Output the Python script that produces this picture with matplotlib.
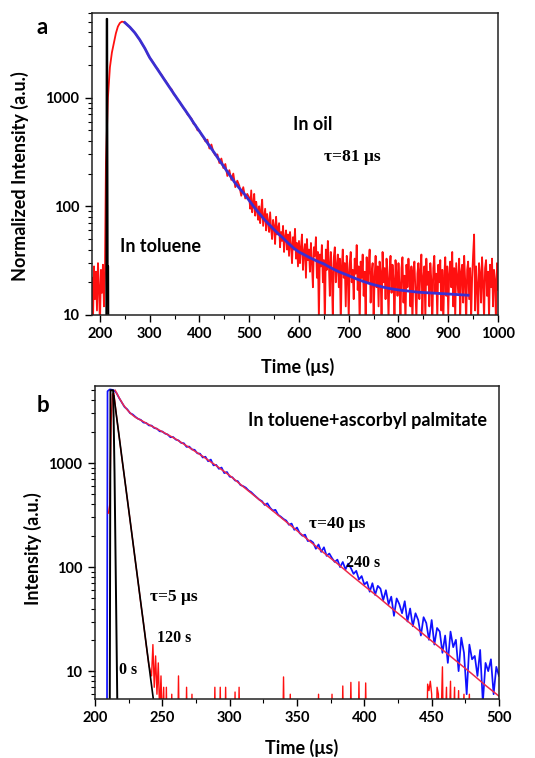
import numpy as np
import matplotlib
matplotlib.use("Agg")
import matplotlib.pyplot as plt
from matplotlib.ticker import FixedLocator, NullFormatter, LogLocator

plt.rcParams['font.family'] = ['Lato', 'DejaVu Sans']
plt.rcParams['font.weight'] = 'bold'

# ---------------- Panel a data ----------------
# "In oil" measured trace (red) in three sampling segments
a_oil_base = [22, 9, 28, 14, 25, 11, 30, 18, 8, 26, 16, 29, 12, 24]          # 184..210 step 2
a_oil_mid = [                                                                  # 212..496 step 4
    250, 1000, 1900, 2600, 3200, 3900, 4500, 4850, 5000, 4950,
    4800, 4600, 4450, 4250, 4050, 3850, 3600, 3400, 3150, 2950, 2750, 2500, 2330,
    2200, 2060, 1920, 1830, 1700, 1610, 1500, 1420, 1330, 1240,
    1190, 1080, 1030, 960, 915, 850, 800, 765, 700, 670,
    640, 575, 560, 500, 495,
    455, 430, 395, 410, 340, 370, 315, 295, 300, 250,
    275, 225, 245, 190, 215, 175, 200, 150, 172, 155,
    125, 150, 118, 130,
]
a_oil_tail = [                                                                 # 500..1000 step 2
    120, 95, 140, 88, 105, 130, 82, 110, 92, 75,
    100, 70, 92, 115, 66, 80, 95, 60, 85, 72,
    58, 88, 62, 50, 75, 66, 45, 80, 55, 62,
    70, 42, 58, 48, 66, 38, 52, 60, 40, 55,
    35, 58, 44, 30, 52, 40, 62, 33, 46, 28,
    48, 30, 42, 55, 26, 38, 45, 22, 50, 32,
    40, 25, 46, 30, 18, 42, 35, 52, 22, 38,
    9, 36, 28, 44, 20, 32, 8, 40, 26, 48,
    30, 15, 38, 24, 9, 34, 42, 20, 28, 36,
    18, 33, 8, 27, 40, 22, 30, 12, 35, 25,
    9, 30, 38, 20, 26, 14, 33, 24, 44, 17,
    28, 8, 31, 22, 36, 15, 25, 9, 34, 20,
    27, 40, 13, 24, 30, 9, 22, 35, 18, 28,
    12, 31, 25, 8, 38, 20, 27, 14, 33, 22,
    9, 26, 35, 16, 29, 21, 8, 32, 24, 15,
    30, 19, 9, 27, 34, 13, 23, 8, 29, 18,
    33, 22, 12, 28, 8, 25, 31, 17, 9, 24,
    30, 14, 26, 36, 10, 22, 28, 9, 33, 19,
    25, 12, 30, 21, 8, 27, 35, 16, 24, 9,
    29, 20, 32, 11, 26, 8, 23, 34, 15, 28,
    10, 24, 31, 18, 38, 12, 27, 9, 30, 22,
    16, 33, 9, 25, 29, 13, 35, 21, 8, 26,
    31, 14, 27, 9, 22, 36, 55, 11, 28, 19,
    8, 30, 24, 13, 34, 20, 9, 27, 32, 15,
    25, 9, 29, 18, 33, 12, 26, 21, 8, 30,
    17,
]
# fit of the oil trace (blue), 10 us spacing from 250 us
a_fit_vals = [
    4900, 4450, 3950, 3400, 2850, 2330, 1990, 1700, 1450, 1240,
    1060, 910, 780, 670, 570, 490, 420, 360, 310, 265,
    228, 196, 168, 147, 130, 113, 98, 86, 76, 68,
    61, 55, 50, 45, 41, 38, 36, 34, 32.3, 30.8,
    29.5, 27.8, 26.3, 25, 24, 23, 22, 21.1, 20.3, 19.6,
    19, 18.5, 18, 17.6, 17.3, 17, 16.8, 16.6, 16.4, 16.2,
    16.1, 16, 15.9, 15.8, 15.7, 15.6, 15.5, 15.4, 15.3, 15.2,
]
# "In toluene" trace (black)
a_tol_t = [212.5, 213.5, 214.5, 215.5, 216.5, 217.5]
a_tol_v = [1, 5300, 5300, 28, 28, 1]

# ---------------- Panel b data ----------------
# 240 s trace (blue)
b240_head_t = [208.8, 209.3, 211, 213, 214.5]
b240_head_v = [0.5, 4900, 5100, 5050, 4950]
b240_vals = [                                                                  # 216..500 step 2
    4700, 4200, 3800, 3450, 3280, 3020, 2930, 2780, 2660, 2600,
    2450, 2430, 2300, 2290, 2170, 2140, 2020, 2010, 1920, 1880,
    1770, 1780, 1680, 1650, 1560, 1550, 1430, 1440, 1350, 1340,
    1240, 1230, 1130, 1150, 1040, 1080, 950, 960, 880, 905,
    800, 820, 740,
    730, 680, 670, 615, 600, 580, 545, 525, 495, 470,
    445, 430, 395, 410, 372, 350, 355, 318, 305, 290,
    280, 255, 262, 228, 240, 212, 200, 205, 178, 180,
    172, 150, 165, 140, 155, 128, 135, 122, 112, 118,
    100, 112, 95, 108, 98, 86, 92, 76, 82, 68,
    72, 58, 70, 54, 66, 62, 48, 60, 44, 52,
    34, 50, 44, 36, 47, 30, 40, 27, 36, 31,
    22, 33, 29, 20, 31, 18, 26, 24, 15, 22,
    12, 24, 17, 20, 10, 21, 15, 6, 18, 13,
    14, 9, 16, 5, 12, 10, 13, 6, 11, 9,
]
# fit of the 240 s trace (red)
b240_fit_t = [215, 218, 221, 224, 227, 230, 235, 240, 250, 260, 270, 280, 290,
              300, 310, 320, 330, 340, 350, 360, 370, 380, 390, 400, 410, 420,
              430, 440, 450, 460, 470, 480, 490, 500]
b240_fit_v = [5000, 4220, 3630, 3240, 2950, 2750, 2540, 2340, 2000, 1700, 1410,
              1160, 944, 759, 594, 466, 365, 286, 224, 175, 137, 108, 84, 66,
              52, 40.5, 31.8, 24.9, 19.5, 15.3, 12.0, 9.4, 7.3, 5.75]
# 120 s trace (red)
b120_t = [210, 211, 212, 213, 214, 216, 218, 220, 222, 224, 226, 228, 230,
          232, 234, 236, 238, 240, 242, 243, 244, 245, 246, 247, 248, 249, 250,
          251, 252, 253, 254, 256, 257, 258, 261, 262, 263, 267, 268, 269, 271,
          272, 273, 288, 289, 290, 292, 293, 294, 296, 297, 298, 303, 304, 305,
          306, 307, 308, 339, 340, 341, 344, 345, 346, 365, 366, 367, 375, 376,
          377, 383, 384, 385, 389, 390, 391, 395, 396, 397, 400, 401, 402, 446,
          447, 448, 449, 450, 451, 453, 454, 455, 456, 458, 459, 461, 462, 464,
          465, 467, 468, 470, 471, 474, 475, 478, 479, 500]
b120_v = [330, 400, 2500, 4600, 4700, 2800, 1770, 1100, 710, 450, 285, 180,
          113, 72, 45, 29, 18, 11.5, 9, 18, 7, 14, 6, 12, 4, 9, 3,
          7, 1, 7, 1, 1, 6, 1, 1, 9, 1, 1, 7, 1, 1,
          6, 1, 1, 7, 1, 1, 7, 1, 1, 7, 1, 1, 6.3, 1,
          1, 7, 1, 1, 8.8, 1, 1, 6, 1, 1, 6, 1, 1, 6,
          1, 1, 7.2, 1, 1, 7.8, 1, 1, 7.9, 1, 1, 7.7, 1, 1,
          7.5, 6.5, 8, 6, 1, 1, 7, 6, 1, 11, 1, 7, 1, 8,
          1, 7, 1, 6.5, 1, 6, 1, 6, 1, 1]
# 5 us fit (black) and 0 s trace (black)
b5_fit_t = [214, 220, 226, 232, 238, 244]
b5_fit_v = [4430, 1120, 285, 72, 18.2, 4.6]
b0_t = [210.8, 211.5, 213.5, 214.5, 216, 217.5]
b0_v = [0.5, 5000, 5000, 800, 20, 0.5]

a_xticks = [200, 300, 400, 500, 600, 700, 800, 900, 1000]
b_xticks = [200, 250, 300, 350, 400, 450, 500]
y_ticks = [10, 100, 1000]

# ---------------- Figure ----------------
W, H = 535, 758
fig = plt.figure(figsize=(W / 100, H / 100), dpi=100)


def box(l, t, r, b):
    return [l / W, 1 - b / H, (r - l) / W, (b - t) / H]


ax_a = fig.add_axes(box(92, 13, 498, 315))
ax_b = fig.add_axes(box(95, 386, 499, 699))

a_oil_t = np.concatenate([184 + 2 * np.arange(len(a_oil_base)),
                          212 + 4 * np.arange(len(a_oil_mid)),
                          500 + 2 * np.arange(len(a_oil_tail))])
a_oil_v = a_oil_base + a_oil_mid + a_oil_tail
a_fit_t = 250 + 10 * np.arange(len(a_fit_vals))
ax_a.plot(a_oil_t, a_oil_v, color='#ff1010', lw=1.3)
ax_a.plot(a_tol_t, a_tol_v, color='black', lw=1.4)
ax_a.plot(a_fit_t, a_fit_vals, color='#3a2fd2', lw=2.0)

b240_t = np.concatenate([b240_head_t, 216 + 2 * np.arange(len(b240_vals))])
b240_v = list(b240_head_v) + list(b240_vals)
ax_b.plot(b240_t, b240_v, color='#1010ff', lw=1.25)
ax_b.plot(b120_t, b120_v, color='#ff1010', lw=1.0)
ax_b.plot(b0_t, b0_v, color='black', lw=1.4)
ax_b.plot(b5_fit_t, b5_fit_v, color='black', lw=1.2)
ax_b.plot(b240_fit_t, b240_fit_v, color='#ee2a4a', lw=1.1)

for ax, xt, xlim, ylim in [(ax_a, a_xticks, (184, 1000), (10, 6000)),
                           (ax_b, b_xticks, (200, 500), (5.4, 5500))]:
    ax.set_yscale('log')
    ax.set_xlim(*xlim)
    ax.set_ylim(*ylim)
    ax.xaxis.set_major_locator(FixedLocator(xt))
    step = xt[1] - xt[0]
    ax.xaxis.set_minor_locator(FixedLocator([v + step / 2 for v in xt[:-1]]))
    ax.yaxis.set_major_locator(FixedLocator(y_ticks))
    ax.set_yticklabels([str(v) for v in y_ticks])
    ax.yaxis.set_minor_locator(LogLocator(base=10, subs=np.arange(2, 10)))
    ax.yaxis.set_minor_formatter(NullFormatter())
    ax.tick_params(which='both', direction='out', top=False, right=False,
                   labelsize=10.5, pad=4)
    ax.tick_params(which='major', length=5, width=1.0)
    ax.tick_params(which='minor', length=3, width=0.8)
    for s in ax.spines.values():
        s.set_linewidth(1.1)
        s.set_color('#222222')


def ftxt(x, y, s, **kw):
    kw.setdefault('ha', 'center')
    kw.setdefault('va', 'center')
    fig.text(x / W, 1 - y / H, s, **kw)


sans = dict(family=['Lato', 'DejaVu Sans'], weight='bold')
serif = dict(family=['Liberation Serif', 'DejaVu Serif'], weight='bold')

ftxt(42, 27, 'a', fontsize=16, **sans)
ftxt(313, 124, 'In oil', fontsize=13, **sans)
ftxt(352, 157, 'τ=81 μs', fontsize=12.5, **serif)
ftxt(160, 246, 'In toluene', fontsize=13, **sans)
ftxt(20, 176, 'Normalized Intensity (a.u.)', fontsize=13, rotation=90, **sans)
ftxt(298, 367, 'Time (μs)', fontsize=13, **sans)

ftxt(43, 405, 'b', fontsize=16, **sans)
ftxt(367, 420, 'In toluene+ascorbyl palmitate', fontsize=13, **sans)
ftxt(337, 524, 'τ=40 μs', fontsize=12.5, **serif)
ftxt(363, 563, '240 s', fontsize=11.5, **serif)
ftxt(174, 597, 'τ=5 μs', fontsize=12.5, **serif)
ftxt(174, 638, '120 s', fontsize=11.5, **serif)
ftxt(128, 670, '0 s', fontsize=11.5, **serif)
ftxt(33, 549, 'Intensity (a.u.)', fontsize=13, rotation=90, **sans)
ftxt(302, 748, 'Time (μs)', fontsize=13, **sans)

fig.savefig('out.png', dpi=100)
